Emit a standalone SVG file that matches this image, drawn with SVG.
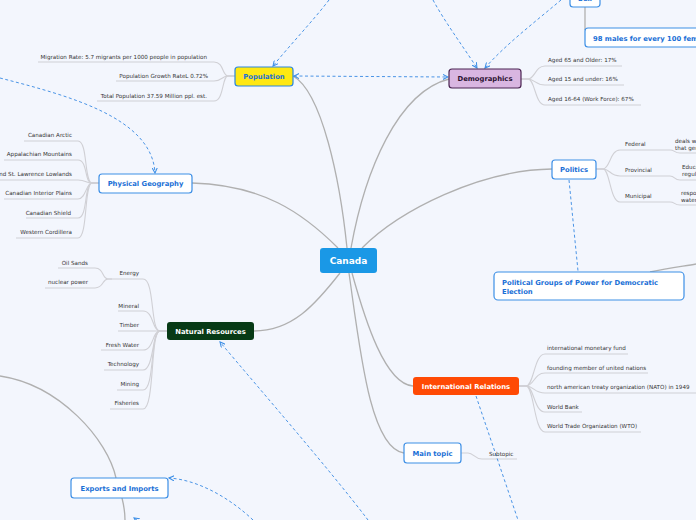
<svg xmlns="http://www.w3.org/2000/svg" width="696" height="520" viewBox="0 0 696 520">
<defs>
<marker id="arr" viewBox="0 0 8 8" refX="7" refY="4" markerWidth="6" markerHeight="6" orient="auto-start-reverse" markerUnits="userSpaceOnUse">
<path d="M0,0.5 L7,4 L0,7.5" fill="none" stroke="#3d8fe6" stroke-width="1.4"/>
</marker>
<style>
.bg{fill:#f3f6fd}
.main{fill:none;stroke:#b0b0b0;stroke-width:1.3}
.sub{fill:none;stroke:#d0d0d5;stroke-width:1.1}
.dash{fill:none;stroke:#4a94e6;stroke-width:1;stroke-dasharray:3 2.5}
.box{fill:#ffffff;stroke:#3d8fe6;stroke-width:1.2}
.lbl{font-family:"DejaVu Sans",Verdana,sans-serif;font-weight:bold;font-size:6.8px;fill:#1a6fd6}
.leaf{font-family:"DejaVu Sans",Verdana,sans-serif;font-size:5.6px;fill:#333333}
.end{text-anchor:end}
.mid{text-anchor:middle}
</style>
</defs>
<rect class="bg" x="0" y="0" width="696" height="520"/>

<g id="connectors">
<path class="main" d="M347,248 C340,180 322,92 293,76"/>
<path class="main" d="M351,248 C365,170 398,92 449,79"/>
<path class="main" d="M362,248 C400,210 480,170 552,169"/>
<path class="main" d="M192,183 C262,185 302,212 338,248"/>
<path class="main" d="M340,273 C315,305 292,331 254,331"/>
<path class="main" d="M352,273 C365,320 385,384 413,386"/>
<path class="main" d="M349,273 C360,350 370,448 404,453"/>
<path class="main" d="M0,376 C60,385 108,440 116,478 L122,498 C124,506 125,513 125,520"/>
<path class="main" d="M585,7 L585,30"/>
<path class="main" d="M650,272 C670,268 685,266 696,264"/>

<path class="sub" d="M235,76 L228,76 C222,76 224,62 214,62 L38,62"/>
<path class="sub" d="M235,76 L228,76 C222,76 222,81 214,81 L116,81"/>
<path class="sub" d="M235,76 L228,76 C222,76 224,101 214,101 L97,101"/>

<path class="sub" d="M521,79 L528,79 C535,79 535,66 545,66 L622,66"/>
<path class="sub" d="M521,79 L528,79 C535,79 535,85 545,85 L624,85"/>
<path class="sub" d="M521,79 L528,79 C535,79 535,105 545,105 L641,105"/>

<path class="sub" d="M99,183 L92,183 C84,183 88,141 78,141 L24,141"/>
<path class="sub" d="M99,183 L92,183 C84,183 88,160 78,160 L4,160"/>
<path class="sub" d="M99,183 L92,183 C86,183 86,180 78,180 L0,180"/>
<path class="sub" d="M99,183 L92,183 C86,183 86,199 78,199 L4,199"/>
<path class="sub" d="M99,183 L92,183 C84,183 88,218 78,218 L26,218"/>
<path class="sub" d="M99,183 L92,183 C84,183 88,238 78,238 L16,238"/>

<path class="sub" d="M167,331 L160,331 C150,331 155,279 143,279 L112,279"/>
<path class="sub" d="M112,279 L108,279 C102,279 104,268 95,268 L58,268"/>
<path class="sub" d="M112,279 L108,279 C102,279 104,288 95,288 L45,288"/>
<path class="sub" d="M167,331 L160,331 C152,331 154,311 143,311 L118,311"/>
<path class="sub" d="M167,331 L118,331"/>
<path class="sub" d="M167,331 L160,331 C152,331 154,350 143,350 L101,350"/>
<path class="sub" d="M167,331 L160,331 C152,331 154,370 143,370 L104,370"/>
<path class="sub" d="M167,331 L160,331 C150,331 155,390 143,390 L117,390"/>
<path class="sub" d="M167,331 L160,331 C150,331 155,409 143,409 L110,409"/>

<path class="sub" d="M596,169 L603,169 C610,169 610,150 620,150 L670,150"/>
<path class="sub" d="M596,169 L603,169 C610,169 610,176 620,176 L670,176"/>
<path class="sub" d="M596,169 L603,169 C610,169 610,202 620,202 L670,202"/>
<path class="sub" d="M670,150 C675,150 674,153 680,153 L696,153"/>
<path class="sub" d="M670,176 C675,176 674,180 680,180 L696,180"/>
<path class="sub" d="M670,202 C675,202 674,205 680,205 L696,205"/>

<path class="sub" d="M519,386 L526,386 C534,386 534,354 545,354 L628,354"/>
<path class="sub" d="M519,386 L526,386 C534,386 534,373 545,373 L648,373"/>
<path class="sub" d="M519,386 L526,386 C534,386 534,393 545,393 L696,393"/>
<path class="sub" d="M519,386 L526,386 C534,386 534,412 545,412 L582,412"/>
<path class="sub" d="M519,386 L526,386 C534,386 534,432 545,432 L641,432"/>

<path class="sub" d="M461,453 L468,453 C474,453 474,459 482,459 L517,459"/>

<path class="dash" marker-end="url(#arr)" d="M329,0 C312,22 290,45 273,66"/>
<path class="dash" marker-end="url(#arr)" d="M433,0 C445,22 462,45 477,68"/>
<path class="dash" marker-end="url(#arr)" d="M561,0 C535,22 505,45 485,68"/>
<path class="dash" marker-start="url(#arr)" marker-end="url(#arr)" d="M294,76 L448,77"/>
<path class="dash" marker-end="url(#arr)" d="M0,78 C70,96 152,118 155,173"/>
<path class="dash" d="M569,180 L578,271"/>
<path class="dash" d="M476,396 L518,520"/>
<path class="dash" marker-end="url(#arr)" d="M368,520 C330,470 262,392 220,342"/>
<path class="dash" marker-end="url(#arr)" d="M253,520 C232,500 200,480 169,478"/>
<path class="dash" marker-end="url(#arr)" d="M146,526 L134,518"/>
</g>

<g id="canada">
<rect x="320" y="248" width="57" height="25" rx="3" fill="#1a98e6"/>
<text class="lbl mid" x="348.5" y="264" style="font-size:9px;fill:#ffffff">Canada</text>
</g>

<g id="population">
<rect x="235" y="67" width="58" height="19" rx="3" fill="#ffe812" stroke="#2a86e0" stroke-width="1.2"/>
<text class="lbl mid" x="264" y="79">Population</text>
</g>
<g id="pop-migration"><text class="leaf end" x="207" y="59">Migration Rate: 5.7 migrants per 1000 people in population</text></g>
<g id="pop-growth"><text class="leaf end" x="208" y="78">Population Growth RateL 0.72%</text></g>
<g id="pop-total"><text class="leaf end" x="207" y="98">Total Population 37.59 Million ppl. est.</text></g>

<g id="demographics">
<rect x="449" y="69" width="72" height="19" rx="3" fill="#d9b6e1" stroke="#4a2352" stroke-width="1.2"/>
<text class="lbl mid" x="485" y="81" style="fill:#2a1030">Demographics</text>
</g>
<g id="dem-65"><text class="leaf" x="548" y="62">Aged 65 and Older: 17%</text></g>
<g id="dem-15"><text class="leaf" x="548" y="81">Aged 15 and under: 16%</text></g>
<g id="dem-1664"><text class="leaf" x="548" y="101">Aged 16-64 (Work Force): 67%</text></g>

<g id="sex">
<rect class="box" x="570" y="-12" width="30" height="19" rx="3"/>
<text class="lbl mid" x="585" y="1">Sex</text>
</g>
<g id="males">
<rect class="box" x="585" y="28" width="125" height="19" rx="3"/>
<text class="lbl" x="593" y="40.5">98 males for every 100 females</text>
</g>

<g id="physical-geography">
<rect class="box" x="99" y="174" width="93" height="19" rx="3"/>
<text class="lbl mid" x="145.5" y="186">Physical Geography</text>
</g>
<g id="pg-arctic"><text class="leaf end" x="72" y="137">Canadian Arctic</text></g>
<g id="pg-appalachian"><text class="leaf end" x="72" y="156">Appalachian Mountains</text></g>
<g id="pg-lowlands"><text class="leaf end" x="72" y="176">Great Lakes and St. Lawrence Lowlands</text></g>
<g id="pg-plains"><text class="leaf end" x="72" y="195">Canadian Interior Plains</text></g>
<g id="pg-shield"><text class="leaf end" x="71" y="215">Canadian Shield</text></g>
<g id="pg-cordillera"><text class="leaf end" x="72" y="234">Western Cordillera</text></g>

<g id="natural-resources">
<rect x="167" y="322" width="87" height="18" rx="3" fill="#073a16"/>
<text class="lbl mid" x="210.5" y="333.5" style="fill:#ffffff">Natural Resources</text>
</g>
<g id="nr-energy"><text class="leaf end" x="139" y="275">Energy</text></g>
<g id="nr-oilsands"><text class="leaf end" x="88" y="265">Oil Sands</text></g>
<g id="nr-nuclear"><text class="leaf end" x="88" y="284">nuclear power</text></g>
<g id="nr-mineral"><text class="leaf end" x="139" y="308">Mineral</text></g>
<g id="nr-timber"><text class="leaf end" x="139" y="327">Timber</text></g>
<g id="nr-water"><text class="leaf end" x="139" y="347">Fresh Water</text></g>
<g id="nr-technology"><text class="leaf end" x="139" y="366">Technology</text></g>
<g id="nr-mining"><text class="leaf end" x="139" y="386">Mining</text></g>
<g id="nr-fisheries"><text class="leaf end" x="139" y="405">Fisheries</text></g>

<g id="politics">
<rect class="box" x="552" y="160" width="44" height="19" rx="3"/>
<text class="lbl mid" x="574" y="172">Politics</text>
</g>
<g id="pol-federal"><text class="leaf" x="625" y="146">Federal</text>
<text class="leaf" x="675" y="143">deals with matters</text><text class="leaf" x="675" y="150">that generally</text></g>
<g id="pol-provincial"><text class="leaf" x="625" y="172">Provincial</text>
<text class="leaf" x="682" y="169">Education</text><text class="leaf" x="682" y="176">regulation</text></g>
<g id="pol-municipal"><text class="leaf" x="625" y="198">Municipal</text>
<text class="leaf" x="681" y="195">responsible</text><text class="leaf" x="681" y="202">water</text></g>

<g id="political-groups">
<rect class="box" x="494" y="272" width="190" height="28" rx="4"/>
<text class="lbl" x="502" y="285">Political Groups of Power for Democratic</text>
<text class="lbl" x="502" y="293.5">Election</text>
</g>

<g id="international-relations">
<rect x="413" y="377" width="106" height="18" rx="3" fill="#ff4a05"/>
<text class="lbl mid" x="466" y="389" style="fill:#ffffff">International Relations</text>
</g>
<g id="ir-imf"><text class="leaf" x="547" y="350">international monetary fund</text></g>
<g id="ir-un"><text class="leaf" x="547" y="370">founding member of united nations</text></g>
<g id="ir-nato"><text class="leaf" x="547" y="389">north american treaty organization (NATO) in 1949</text></g>
<g id="ir-wb"><text class="leaf" x="547" y="409">World Bank</text></g>
<g id="ir-wto"><text class="leaf" x="547" y="428">World Trade Organization (WTO)</text></g>

<g id="main-topic">
<rect class="box" x="404" y="443" width="57" height="20" rx="3"/>
<text class="lbl mid" x="432.5" y="456">Main topic</text>
</g>
<g id="subtopic"><text class="leaf" x="489" y="456">Subtopic</text></g>

<g id="exports-imports">
<rect class="box" x="71" y="478" width="97" height="20" rx="3"/>
<text class="lbl mid" x="119.5" y="491">Exports and Imports</text>
</g>
</svg>
